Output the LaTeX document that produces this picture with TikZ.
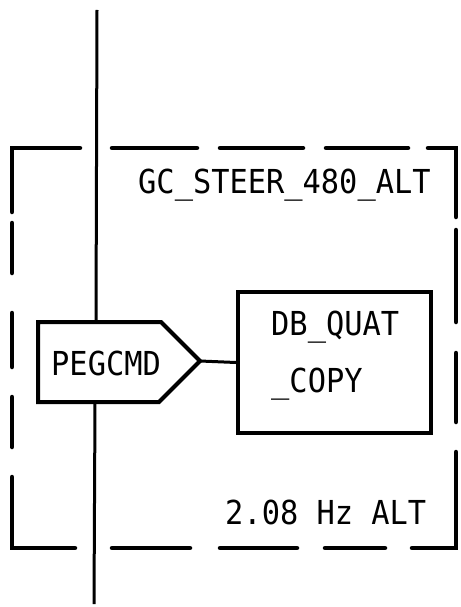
\documentclass[tikz,border=0pt]{standalone}
\usepackage{fontspec}
\newfontfamily\lettering[FakeStretch=0.92]{DejaVu Sans Mono}
\tikzset{
  frame/.style={line width=4.5pt, line cap=round, line join=miter},
  boxline/.style={line width=4pt, line join=miter},
  wire/.style={line width=3pt},
  lbl/.style={inner sep=0pt, anchor=base west, font=\lettering\fontsize{33}{33}\selectfont},
}
\begin{document}
\begin{tikzpicture}[x=1pt,y=-1pt]
\useasboundingbox (0,0) rectangle (460,607);
% dashed group frame
\draw[frame] (12,212)--(12,148)--(80,148);
\foreach \a/\b in {112/197,220/303,326/408}{\draw[frame] (\a,148)--(\b,148);}
\draw[frame] (428,148)--(456,148)--(456,217);
\foreach \a/\b in {230/322,353/422}{\draw[frame] (456,\a)--(456,\b);}
\draw[frame] (456,452)--(456,548)--(412,548);
\foreach \a/\b in {325/385,220/297,112/190}{\draw[frame] (\a,548)--(\b,548);}
\draw[frame] (75,548)--(12,548)--(12,477);
\foreach \a/\b in {397/447,313/367,223/273}{\draw[frame] (12,\a)--(12,\b);}
% vertical line
\coordinate (vtop) at (97,10);
\coordinate (vbot) at (94,604);
\coordinate (pegtop) at (96,322);
\coordinate (pegbot) at (95,402);
\draw[wire] (vtop)--(pegtop);
\draw[wire] (pegbot)--(vbot);
% PEGCMD pentagon
\draw[boxline] (38,322)--(161,322)--(200,361)--(159,402)--(38,402)--cycle;
\coordinate (pegtip) at (200,361);
\node[lbl] (peg) at (51,375) {PEGCMD};
% DB_QUAT_COPY box
\node[draw, boxline, minimum width=193pt, minimum height=141pt, inner sep=0pt] (db) at (334.5,362.5) {};
\node[lbl] (db1) at (271,335) {DB\_QUAT};
\node[lbl] (db2) at (271,392) {\_COPY};
\draw[wire] (pegtip)--(db.west);
% labels
\node[lbl] (gc) at (138,193) {GC\_STEER\_480\_ALT};
\node[lbl] (hz) at (225,524) {2.08 Hz ALT};
\end{tikzpicture}
\end{document}
